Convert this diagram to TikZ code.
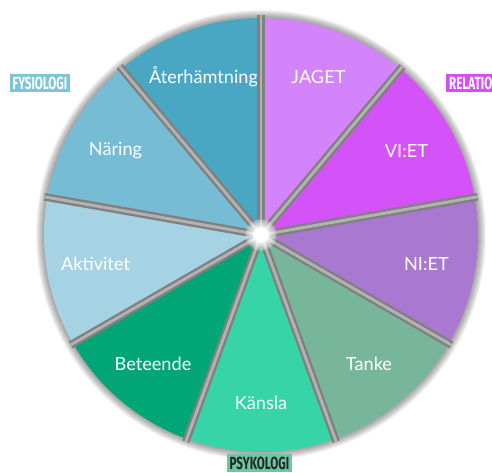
\documentclass[tikz,border=0pt]{standalone}
\usepackage{fontspec}
\setmainfont{Lato}
\newfontfamily\tagfont[FakeStretch=0.66]{Fira Sans}
\usetikzlibrary{calc}
\definecolor{recov}{HTML}{4AA7C4}
\definecolor{food}{HTML}{76BCD4}
\definecolor{activ}{HTML}{A6D3E3}
\definecolor{behav}{HTML}{02A676}
\definecolor{feel}{HTML}{37D4A8}
\definecolor{thought}{HTML}{78B69C}
\definecolor{niet}{HTML}{A979D2}
\definecolor{viet}{HTML}{D453F9}
\definecolor{jaget}{HTML}{D384FA}
\definecolor{fysiotag}{HTML}{7CC4D8}
\definecolor{reltag}{HTML}{D34FF5}
\definecolor{psyktag}{HTML}{6BC7A0}

\begin{document}
\begin{tikzpicture}[x=0.03cm, y=0.03cm, line cap=round,
  wedgelabel/.style={font=\fontsize{15.5}{18}\selectfont, text=white},
  tagbox/.style={font=\tagfont\bfseries\fontsize{15}{17}\selectfont, inner xsep=2.5pt, inner ysep=2pt}]
  \clip (0,0) rectangle (492,473);
  \coordinate (c) at (261,238);
  % soft shadow round the wheel
  \foreach \i in {1,...,8}
    {\fill[black, opacity=0.05] (c) circle (217+\i);}
  % nine wedges of 40 degrees
  \foreach \a/\col/\txt/\nm in {90/recov/Återhämtning/recov, 130/food/Näring/food,
      170/activ/Aktivitet/activ, 210/behav/Beteende/behav, 250/feel/Känsla/feel,
      290/thought/Tanke/thought, 330/niet/NI:ET/niet, 10/viet/VI:ET/viet, 50/jaget/JAGET/jaget}
    {\fill[\col] (c) -- ($(c)+(\a:217)$) arc[start angle=\a, end angle=\a+40, radius=217] -- cycle;
     \node[wedgelabel] (\nm) at ($(c)+(\a+20:168)$) {\txt};}
  % gaps
  \foreach \a in {10,50,...,330}
    {\draw[black!50, line width=6.5pt, line cap=butt] (c) -- ($(c)+(\a:220)$);
     \draw[black!30, line width=2.5pt, line cap=butt] (c) -- ($(c)+(\a:220)$);}
  % glow in the middle
  \foreach \r in {9,...,16}
    {\fill[white, opacity=0.18] (c) circle (\r);}
  \fill[white] (c) circle (8);
  % group tags
  \node[tagbox, fill=fysiotag, text=white] (fysio) at (40,390) {FYSIOLOGI};
  \node[tagbox, fill=reltag, text=white, anchor=west] (rel) at (446,390) {RELATION};
  \node[tagbox, fill=psyktag, text=black!85, anchor=south] (psyk) at (259.5,1) {PSYKOLOGI};
\end{tikzpicture}
\end{document}
